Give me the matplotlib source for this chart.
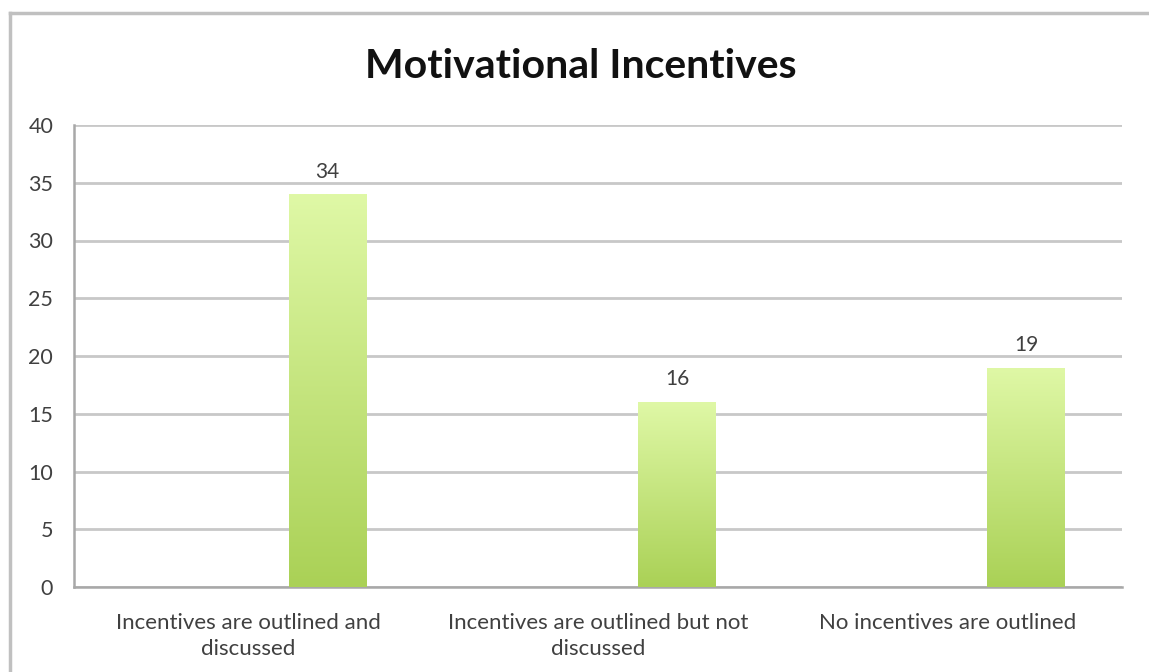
import matplotlib
matplotlib.use("Agg")
import matplotlib.pyplot as plt
import numpy as np
from matplotlib.colors import LinearSegmentedColormap
from matplotlib.lines import Line2D

categories = ["Incentives are outlined and\ndiscussed",
              "Incentives are outlined but not\ndiscussed",
              "No incentives are outlined"]
values = [34, 16, 19]
yticks = [0, 5, 10, 15, 20, 25, 30, 35, 40]
title = "Motivational Incentives"

plt.rcParams['font.family'] = ['Lato', 'DejaVu Sans']

fig = plt.figure(figsize=(11.49, 6.72), dpi=100)
ax = fig.add_axes([74/1149, 1-587/672, (1122-74)/1149, (587-125)/672])

x = np.arange(len(categories))
offset = 0.226
width = 0.223
cmap = LinearSegmentedColormap.from_list("g", ["#aad156", "#dff8a6"])
grad = np.linspace(0, 1, 256).reshape(-1, 1)
bars = ax.bar(x + offset, values, width=width, color="#c4e27f", zorder=3, linewidth=0)
for b in bars:
    x0, y0 = b.get_x(), b.get_y()
    w, h = b.get_width(), b.get_height()
    im = ax.imshow(grad, cmap=cmap, origin="lower", aspect="auto",
                   extent=(x0, x0 + w, y0, y0 + h), zorder=4)
    im.set_clip_path(b)
    ax.text(x0 + w/2, y0 + h + 1.1, str(int(h)), ha="center", va="bottom",
            fontsize=15, color="#404040", zorder=5)

ax.set_xlim(-0.5, 2.5)
ax.set_ylim(0, 40)
ax.set_yticks(yticks)
ax.set_xticks(x)
ax.set_xticklabels(categories, fontsize=16, color="#404040", linespacing=1.35)
ax.tick_params(axis="both", length=0, colors="#404040")
ax.tick_params(axis="x", pad=19, labelsize=16)
ax.tick_params(axis="y", pad=15, labelsize=15.5)
ax.yaxis.grid(True, color="#c8c8c8", linewidth=2, zorder=0)
ax.set_axisbelow(True)
for s in ["top", "right"]:
    ax.spines[s].set_visible(False)
for s in ["left", "bottom"]:
    ax.spines[s].set_color("#a8a8a8")
    ax.spines[s].set_linewidth(1.8)

fig.text(581/1149, 1-67/672, title, ha="center", va="center",
         fontsize=29.5, fontweight="bold", color="#111111")

fig.add_artist(Line2D([10/1149, 10/1149], [0, 1-13/672], transform=fig.transFigure,
                      color="#c0c0c0", linewidth=2.5))
fig.add_artist(Line2D([10/1149, 1], [1-13/672, 1-13/672], transform=fig.transFigure,
                      color="#c0c0c0", linewidth=2.5))

fig.savefig("out.png", dpi=100)
